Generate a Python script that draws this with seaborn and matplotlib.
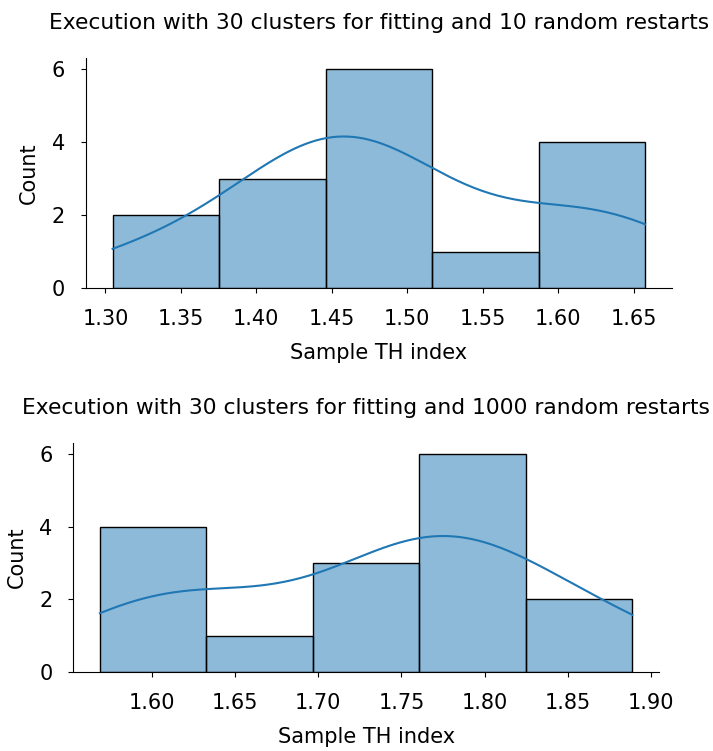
import matplotlib
matplotlib.use("Agg")
import matplotlib.pyplot as plt
import seaborn as sns
import pandas as pd

# TH index per sample for each clustering run (30 clusters)
th_index_10_restarts = [1.3048, 1.36,
                        1.40, 1.42, 1.44,
                        1.45, 1.455, 1.465, 1.475, 1.49, 1.50,
                        1.55,
                        1.60, 1.62, 1.64, 1.6575]
th_index_1000_restarts = [1.569, 1.60, 1.61, 1.625,
                          1.66,
                          1.71, 1.735, 1.755,
                          1.762, 1.77, 1.78, 1.795, 1.81, 1.82,
                          1.87, 1.8886]

titles = ["Execution with 30 clusters for fitting and 10 random restarts",
          "Execution with 30 clusters for fitting and 1000 random restarts"]
x_label = "Sample TH index"

plt.rcParams["font.family"] = ["DejaVu Sans"]
plt.rcParams["font.size"] = 15

W, H = 713, 751
fig = plt.figure(figsize=(W / 100, H / 100), dpi=100)

# axes boxes in pixels: left, right, top, bottom
boxes = [(86, 671.7, 58, 288.3), (73.3, 659, 442.7, 672.3)]
series = [th_index_10_restarts, th_index_1000_restarts]

for (l, r, t, b), values, title in zip(boxes, series, titles):
    ax = fig.add_axes([l / W, 1 - b / H, (r - l) / W, (b - t) / H])
    df = pd.DataFrame({x_label: values})
    sns.histplot(data=df, x=x_label, kde=True, ax=ax)
    ax.set_title(title, fontsize=15.7, pad=21)
    ax.set_xlabel(x_label, labelpad=10)
    ax.set_ylabel("Count", labelpad=9)
    ax.set_yticks([0, 2, 4, 6])
    ax.tick_params(labelsize=15, pad=11.5)
    sns.despine(ax=ax)

fig.savefig("out.png", dpi=100)
